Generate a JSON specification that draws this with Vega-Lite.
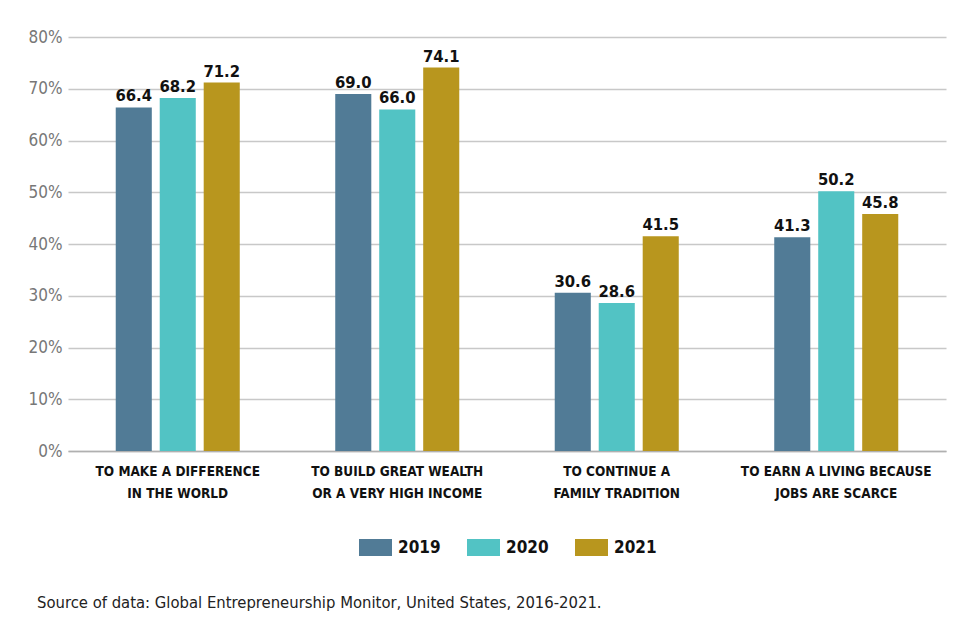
{
  "$schema": "https://vega.github.io/schema/vega-lite/v6.json",
  "width": 878,
  "height": 414,
  "autosize": "none",
  "padding": {"left": 68, "top": 37, "right": 8, "bottom": 188},
  "background": "white",
  "data": {
    "values": [
      {"cat": "TO MAKE A DIFFERENCE|IN THE WORLD", "year": "2019", "value": 66.4},
      {"cat": "TO MAKE A DIFFERENCE|IN THE WORLD", "year": "2020", "value": 68.2},
      {"cat": "TO MAKE A DIFFERENCE|IN THE WORLD", "year": "2021", "value": 71.2},
      {"cat": "TO BUILD GREAT WEALTH|OR A VERY HIGH INCOME", "year": "2019", "value": 69.0},
      {"cat": "TO BUILD GREAT WEALTH|OR A VERY HIGH INCOME", "year": "2020", "value": 66.0},
      {"cat": "TO BUILD GREAT WEALTH|OR A VERY HIGH INCOME", "year": "2021", "value": 74.1},
      {"cat": "TO CONTINUE A|FAMILY TRADITION", "year": "2019", "value": 30.6},
      {"cat": "TO CONTINUE A|FAMILY TRADITION", "year": "2020", "value": 28.6},
      {"cat": "TO CONTINUE A|FAMILY TRADITION", "year": "2021", "value": 41.5},
      {"cat": "TO EARN A LIVING BECAUSE|JOBS ARE SCARCE", "year": "2019", "value": 41.3},
      {"cat": "TO EARN A LIVING BECAUSE|JOBS ARE SCARCE", "year": "2020", "value": 50.2},
      {"cat": "TO EARN A LIVING BECAUSE|JOBS ARE SCARCE", "year": "2021", "value": 45.8}
    ]
  },
  "title": {
    "text": "Source of data: Global Entrepreneurship Monitor, United States, 2016-2021.",
    "orient": "bottom",
    "anchor": "start",
    "frame": "group",
    "dx": -31,
    "offset": 39,
    "font": "DejaVu Sans Condensed",
    "fontSize": 16.5,
    "fontWeight": "normal",
    "color": "#222222"
  },
  "encoding": {
    "x": {
      "field": "cat",
      "type": "nominal",
      "sort": null,
      "title": null,
      "scale": {"paddingInner": 0.435, "paddingOuter": 0.2175},
      "axis": {
        "labelExpr": "split(datum.label, '|')",
        "labelAngle": 0,
        "labelLimit": 400,
        "labelFont": "DejaVu Sans Condensed",
        "labelFontSize": 13.5,
        "labelFontWeight": "bold",
        "labelColor": "#111111",
        "labelLineHeight": 22,
        "labelPadding": 13,
        "ticks": false,
        "domainColor": "#b0b0b0",
        "domainWidth": 1.5
      }
    },
    "xOffset": {
      "field": "year",
      "type": "nominal",
      "scale": {"paddingInner": 0.18, "paddingOuter": 0}
    },
    "y": {
      "field": "value",
      "type": "quantitative",
      "title": null,
      "scale": {"domain": [0, 80]},
      "axis": {
        "values": [0, 10, 20, 30, 40, 50, 60, 70, 80],
        "labelExpr": "datum.value + '%'",
        "labelFont": "DejaVu Sans Condensed",
        "labelFontSize": 17,
        "labelColor": "#777777",
        "labelPadding": 6,
        "ticks": false,
        "domain": false,
        "gridColor": "#c8c8c8",
        "gridWidth": 1.5
      }
    }
  },
  "layer": [
    {
      "mark": {"type": "bar"},
      "encoding": {
        "color": {
          "field": "year",
          "type": "nominal",
          "title": null,
          "scale": {"domain": ["2019", "2020", "2021"], "range": ["#517b96", "#52c3c4", "#b8961e"]},
          "legend": {
            "orient": "none",
            "direction": "horizontal",
            "legendX": 291,
            "legendY": 494,
            "symbolType": "M-1,-0.515H1V0.515H-1Z",
            "symbolSize": 1089,
            "symbolStrokeWidth": 0,
            "labelFont": "DejaVu Sans Condensed",
            "labelFontSize": 17,
            "labelFontWeight": "bold",
            "labelColor": "#111111",
            "labelOffset": 6,
            "columnPadding": 26,
            "padding": 0
          }
        }
      }
    },
    {
      "mark": {
        "type": "text",
        "baseline": "bottom",
        "dy": -3,
        "font": "DejaVu Sans Condensed",
        "fontSize": 16.5,
        "fontWeight": "bold",
        "color": "#111111"
      },
      "encoding": {
        "text": {"field": "value", "type": "quantitative", "format": ".1f"}
      }
    }
  ],
  "config": {
    "view": {"stroke": null}
  }
}
